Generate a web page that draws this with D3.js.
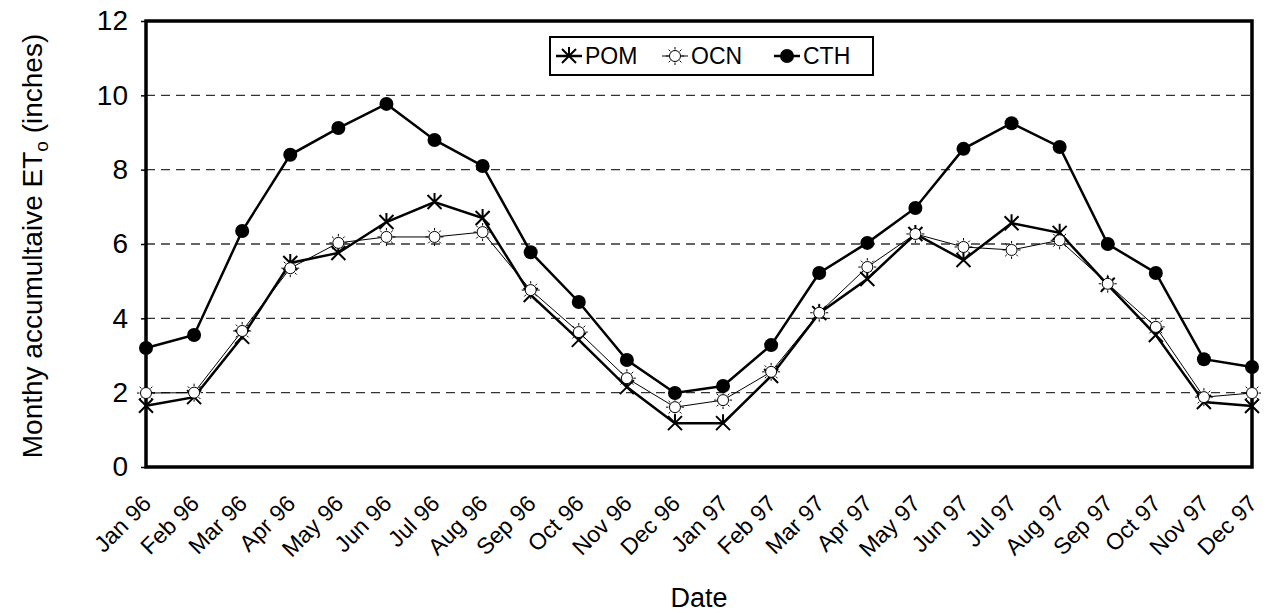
<!DOCTYPE html>
<html>
<head>
<meta charset="utf-8">
<script src="https://cdn.jsdelivr.net/npm/d3@7"></script>
<style>
  body { margin: 0; background: #fff; }
  svg { font-family: "Liberation Sans", Arial, sans-serif; }
</style>
</head>
<body>
<svg id="chart" width="1267" height="613"></svg>
<script>
const months = ["Jan 96", "Feb 96", "Mar 96", "Apr 96", "May 96", "Jun 96", "Jul 96", "Aug 96",
    "Sep 96", "Oct 96", "Nov 96", "Dec 96", "Jan 97", "Feb 97", "Mar 97", "Apr 97", "May 97",
    "Jun 97", "Jul 97", "Aug 97", "Sep 97", "Oct 97", "Nov 97", "Dec 97"];

const pom = [1.65, 1.88, 3.5, 5.49, 5.76, 6.59, 7.13, 6.7, 4.63, 3.42, 2.15, 1.18,
    1.18, 2.45, 4.14, 5.06, 6.27, 5.57, 6.56, 6.3, 4.9, 3.55, 1.75, 1.64];
const ocn = [1.99, 2.0, 3.66, 5.35, 6.03, 6.19, 6.19, 6.32, 4.76, 3.63, 2.39, 1.61,
    1.8, 2.56, 4.15, 5.38, 6.27, 5.92, 5.84, 6.1, 4.93, 3.77, 1.88, 1.99];
const cth = [3.2, 3.55, 6.35, 8.4, 9.12, 9.77, 8.8, 8.1, 5.78, 4.44, 2.88, 1.99,
    2.18, 3.28, 5.22, 6.03, 6.97, 8.56, 9.25, 8.61, 6.0, 5.22, 2.9, 2.69];

const yTicks = [0, 2, 4, 6, 8, 10, 12];

const margins = { left: 146, right: 15, top: 21, bottom: 146 };
const width = 1267, height = 613;
const font = "Liberation Sans, Arial, sans-serif";

const svg = d3.select("#chart");

const scaleX = d3.scalePoint()
    .domain(months)
    .range([margins.left, width - margins.right]);

const scaleY = d3.scaleLinear()
    .domain([0, 12])
    .range([height - margins.bottom, margins.top]);

// grid lines
svg.append("g")
    .selectAll("line")
    .data(yTicks.filter(d => d > 0 && d < 12))
    .join("line")
    .attr("x1", margins.left)
    .attr("x2", width - margins.right)
    .attr("y1", d => scaleY(d))
    .attr("y2", d => scaleY(d))
    .attr("stroke", "#333")
    .attr("stroke-width", 1.3)
    .attr("stroke-dasharray", "9,6");

// y axis
const yAxis = d3.axisLeft(scaleY).tickValues(yTicks).tickSize(5).tickPadding(13);
svg.append("g")
    .attr("class", "y-axis")
    .attr("transform", `translate(${margins.left}, 0)`)
    .call(yAxis)
    .call(g => g.select(".domain").remove())
    .call(g => g.selectAll("line").attr("stroke", "#000").attr("stroke-width", 1.5))
    .call(g => g.selectAll("text").attr("font-size", 28).attr("fill", "#000")
        .attr("font-family", font));

// x axis
const xAxis = d3.axisBottom(scaleX).tickSize(0).tickPadding(0);
svg.append("g")
    .attr("class", "x-axis")
    .attr("transform", `translate(0, ${height - margins.bottom})`)
    .call(xAxis)
    .call(g => g.select(".domain").remove())
    .call(g => g.selectAll("text")
        .attr("font-size", 23)
        .attr("fill", "#000")
        .attr("font-family", font)
        .attr("text-anchor", "end")
        .attr("dy", 0)
        .attr("transform", "translate(6, 38) rotate(-45)"));

// frame
svg.append("rect")
    .attr("x", margins.left)
    .attr("y", margins.top)
    .attr("width", width - margins.right - margins.left)
    .attr("height", height - margins.bottom - margins.top)
    .attr("fill", "none")
    .attr("stroke", "#000")
    .attr("stroke-width", 3.5);

// lines
const line = d3.line()
    .x((d, i) => scaleX(months[i]))
    .y(d => scaleY(d));

const series = [
    { name: "POM", values: pom, width: 2.5, marker: "star" },
    { name: "OCN", values: ocn, width: 1, marker: "sun" },
    { name: "CTH", values: cth, width: 2.5, marker: "dot" }
];

function drawMarker(g, type) {
    if (type === "dot") {
        g.append("circle").attr("r", 7).attr("fill", "#000");
    } else if (type === "sun") {
        g.append("circle").attr("r", 5.5).attr("fill", "#fff").attr("stroke", "#000").attr("stroke-width", 1);
        for (let k = 0; k < 8; k++) {
            const a = k * Math.PI / 4;
            g.append("line")
                .attr("x1", Math.cos(a) * 6.5).attr("y1", Math.sin(a) * 6.5)
                .attr("x2", Math.cos(a) * 9).attr("y2", Math.sin(a) * 9)
                .attr("stroke", "#000").attr("stroke-width", 1);
        }
    } else {
        const s = 7;
        g.append("path")
            .attr("d", `M${-s},${-s}L${s},${s}M${-s},${s}L${s},${-s}M0,${-s - 2}L0,0`)
            .attr("stroke", "#000").attr("stroke-width", 2).attr("fill", "none");
    }
}

series.forEach(s => {
    svg.append("path")
        .datum(s.values)
        .attr("d", line)
        .attr("fill", "none")
        .attr("stroke", "#000")
        .attr("stroke-width", s.width);
});

series.forEach(s => {
    const g = svg.append("g");
    s.values.forEach((v, i) => {
        const m = g.append("g").attr("transform", `translate(${scaleX(months[i])}, ${scaleY(v)})`);
        drawMarker(m, s.marker);
    });
});

// legend
const legend = svg.append("g").attr("transform", "translate(550, 37)");
legend.append("rect")
    .attr("width", 323).attr("height", 38)
    .attr("fill", "#fff").attr("stroke", "#000").attr("stroke-width", 2);

const legendItems = [
    { name: "POM", marker: "star", width: 2.5, x: 6 },
    { name: "OCN", marker: "sun", width: 1, x: 112 },
    { name: "CTH", marker: "dot", width: 2.5, x: 224 }
];
legendItems.forEach(item => {
    const lg = legend.append("g").attr("transform", `translate(${item.x}, 19)`);
    lg.append("line").attr("x1", 0).attr("x2", 26).attr("stroke", "#000").attr("stroke-width", item.width);
    drawMarker(lg.append("g").attr("transform", "translate(13, 0)"), item.marker);
    lg.append("text")
        .attr("x", 29).attr("y", 8)
        .attr("font-size", 23)
        .text(item.name);
});

// axis titles
svg.append("text")
    .attr("x", 699).attr("y", 607)
    .attr("text-anchor", "middle")
    .attr("font-size", 27)
    .text("Date");

const yTitle = svg.append("text")
    .attr("transform", "translate(42, 246) rotate(-90)")
    .attr("text-anchor", "middle")
    .attr("font-size", 28);
yTitle.append("tspan").text("Monthy accumultaive ET");
yTitle.append("tspan").attr("font-size", 19).attr("dy", 6).text("o");
yTitle.append("tspan").attr("dy", -6).text(" (inches)");
</script>
</body>
</html>
